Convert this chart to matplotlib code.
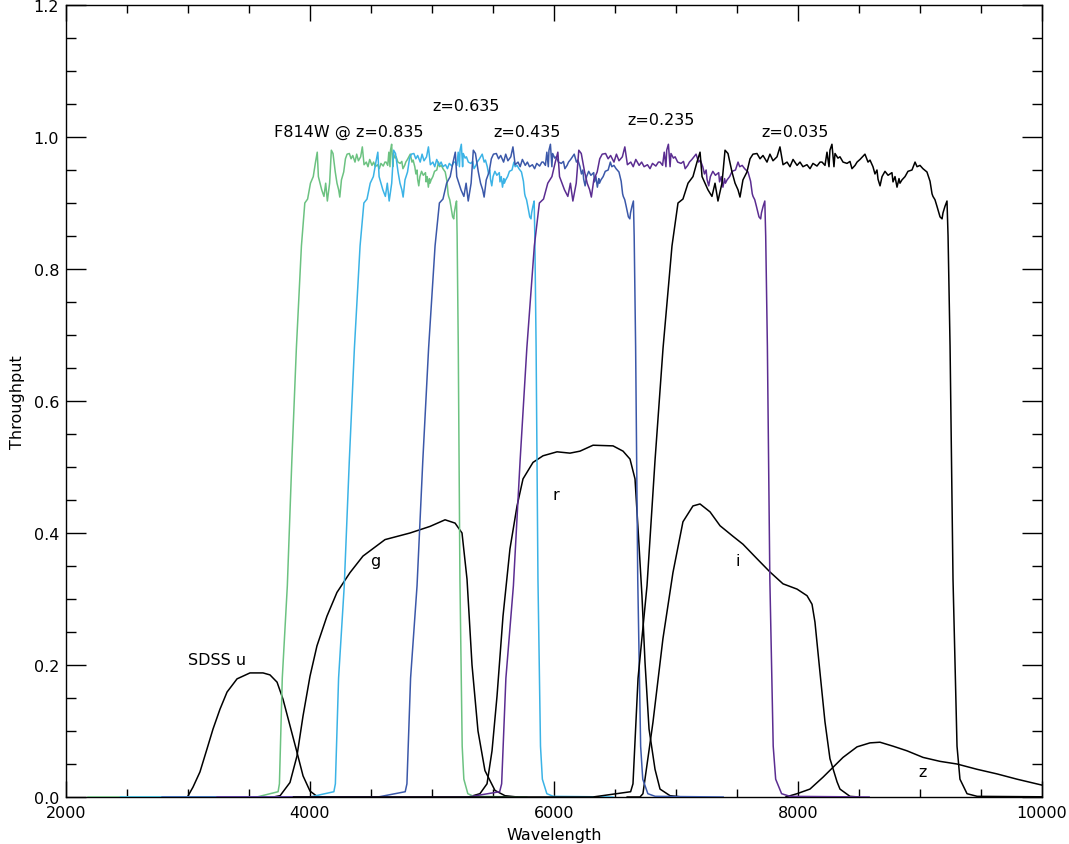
import numpy as np
import matplotlib
matplotlib.use('Agg')
import matplotlib.pyplot as plt
from matplotlib.ticker import MultipleLocator, FormatStrFormatter

# ---------------- data ----------------
# HST F814W throughput, observed-frame wavelength (Angstrom)
f814w_wave = [4000, 6540, 6860, 6880, 6923, 6999, 7067, 7135, 7211, 7262,
              7304, 7347, 7389, 7423, 7449, 7466, 7491, 7516, 7550, 7576,
              7601, 7635, 7661, 7686, 7720, 7746, 7771, 7788, 7813, 7847,
              7873, 7898, 7932, 7958, 7983, 8017, 8042, 8068, 8102, 8127,
              8153, 8187, 8212, 8238, 8272, 8297, 8322, 8356, 8382, 8407,
              8441, 8467, 8484, 8509, 8526, 8543, 8551, 8568, 8585, 8594,
              8619, 8636, 8662, 8696, 8721, 8738, 8764, 8781, 8806, 8848,
              8874, 8891, 8916, 8933, 8950, 8959, 8976, 8993, 9018, 9044,
              9077, 9086, 9103, 9120, 9137, 9145, 9162, 9188, 9213, 9247,
              9273, 9290, 9315, 9340, 9374, 9400, 9417, 9425, 9442, 9459,
              9485, 9502, 9510, 9527, 9544, 9553, 9570, 9595, 9629, 9654,
              9714, 9800, 10600]
f814w_thru = [0.0, 0.0, 0.008, 0.02, 0.18, 0.32, 0.51, 0.68, 0.835, 0.90,
              0.906, 0.93, 0.94, 0.962, 0.977, 0.94, 0.93, 0.92, 0.91, 0.93,
              0.903, 0.93, 0.98, 0.975, 0.947, 0.93, 0.92, 0.909, 0.935, 0.947,
              0.967, 0.974, 0.975, 0.967, 0.972, 0.962, 0.974, 0.964, 0.970, 0.985,
              0.958, 0.962, 0.955, 0.966, 0.957, 0.962, 0.955, 0.958, 0.952, 0.96,
              0.956, 0.962, 0.962, 0.957, 0.977, 0.955, 0.98, 0.989, 0.955, 0.975,
              0.968, 0.97, 0.962, 0.96, 0.963, 0.952, 0.957, 0.962, 0.966, 0.974,
              0.962, 0.965, 0.955, 0.944, 0.95, 0.936, 0.926, 0.94, 0.948, 0.942,
              0.946, 0.932, 0.94, 0.924, 0.937, 0.93, 0.935, 0.94, 0.948, 0.95,
              0.962, 0.955, 0.957, 0.952, 0.947, 0.933, 0.914, 0.91, 0.905, 0.895,
              0.879, 0.876, 0.885, 0.895, 0.903, 0.85, 0.683, 0.33, 0.077, 0.027,
              0.005, 0.001, 0.0]

redshifts = [0.835, 0.635, 0.435, 0.235, 0.035]
z_labels = ['F814W @ z=0.835', 'z=0.635', 'z=0.435', 'z=0.235', 'z=0.035']

# SDSS filters
u_wave = [3000, 3041, 3098, 3156, 3205, 3262, 3320, 3402, 3508, 3615,
          3672, 3730, 3779, 3836, 3893, 3943, 4000, 4057, 4100]
u_thru = [0.0015, 0.015, 0.038, 0.073, 0.103, 0.133, 0.159, 0.179, 0.188, 0.188,
          0.185, 0.174, 0.148, 0.108, 0.068, 0.032, 0.009, 0.001, 0.0]

g_wave = [3700, 3755, 3836, 3893, 3943, 4000, 4057, 4139, 4221, 4328,
          4434, 4615, 4820, 4984, 5107, 5189, 5246, 5287, 5328, 5377,
          5434, 5516, 5598, 5700]
g_thru = [0.0, 0.002, 0.022, 0.062, 0.123, 0.183, 0.229, 0.274, 0.31, 0.34,
          0.365, 0.39, 0.40, 0.41, 0.42, 0.415, 0.40, 0.33, 0.20, 0.10,
          0.04, 0.01, 0.002, 0.0]

r_wave = [5300, 5393, 5451, 5492, 5533, 5582, 5639, 5697, 5746, 5828,
          5910, 6025, 6131, 6213, 6320, 6484, 6566, 6623, 6664, 6689,
          6721, 6746, 6779, 6828, 6869, 6951, 7050]
r_thru = [0.0, 0.005, 0.02, 0.07, 0.153, 0.274, 0.376, 0.441, 0.482, 0.507,
          0.517, 0.523, 0.521, 0.524, 0.533, 0.532, 0.524, 0.512, 0.482, 0.406,
          0.305, 0.204, 0.103, 0.042, 0.012, 0.002, 0.0]

i_wave = [6600, 6705, 6729, 6811, 6893, 6975, 7057, 7139, 7197, 7279,
          7361, 7467, 7549, 7664, 7770, 7877, 7992, 8074, 8115, 8139,
          8180, 8221, 8262, 8320, 8344, 8426, 8500]
i_thru = [0.0, 0.0, 0.005, 0.113, 0.24, 0.34, 0.417, 0.441, 0.444, 0.432,
          0.411, 0.395, 0.383, 0.361, 0.341, 0.323, 0.315, 0.305, 0.292, 0.265,
          0.189, 0.114, 0.058, 0.023, 0.012, 0.001, 0.0]

zs_wave = [7900, 7992, 8098, 8205, 8287, 8369, 8484, 8590, 8672, 8779,
           8893, 9025, 9164, 9303, 9467, 9631, 9795, 10000]
zs_thru = [0.0, 0.005, 0.012, 0.03, 0.045, 0.06, 0.076, 0.082, 0.083, 0.077,
           0.07, 0.06, 0.054, 0.05, 0.042, 0.035, 0.027, 0.018]

sdss_labels = ['SDSS u', 'g', 'r', 'i', 'z']

# ---------------- style ----------------
z_colors = ['#6cc281', '#3bb3e6', '#3b58a9', '#5b2d91', '#000000']
z_label_pos = [(4320, 1.008), (5279, 1.048), (5779, 1.008), (6877, 1.026), (7975, 1.008)]
sdss_label_pos = [(3238, 0.209), (4533, 0.358), (6016, 0.459), (7508, 0.359), (9025, 0.039)]

plt.rcParams['font.family'] = ['DejaVu Sans']
FS = 11.5

fig = plt.figure(figsize=(10.69, 8.45), dpi=100)
ax = fig.add_axes([66 / 1069, (845 - 798) / 845, (1042 - 66) / 1069, (798 - 6) / 845])

lw = 1.1
for wv, th in [(u_wave, u_thru), (g_wave, g_thru), (r_wave, r_thru),
               (i_wave, i_thru), (zs_wave, zs_thru)]:
    ax.plot(wv, th, color='black', lw=lw, zorder=2)

for z, c in zip(redshifts, z_colors):
    rest = np.array(f814w_wave) / (1.0 + z)
    ax.plot(rest, f814w_thru, color=c, lw=lw, zorder=3)

for lab, (x, y) in zip(z_labels, z_label_pos):
    ax.text(x, y, lab, ha='center', va='center', fontsize=FS)
for lab, (x, y) in zip(sdss_labels, sdss_label_pos):
    ax.text(x, y, lab, ha='center', va='center', fontsize=FS)

ax.set_xlim(2000, 10000)
ax.set_ylim(0.0, 1.2)
ax.xaxis.set_major_locator(MultipleLocator(2000))
ax.xaxis.set_minor_locator(MultipleLocator(500))
ax.yaxis.set_major_locator(MultipleLocator(0.2))
ax.yaxis.set_minor_locator(MultipleLocator(0.05))
ax.yaxis.set_major_formatter(FormatStrFormatter('%.1f'))
ax.xaxis.set_major_formatter(FormatStrFormatter('%d'))

ax.tick_params(axis='both', which='both', direction='in', top=True, right=True,
               labelsize=FS, width=1.0, color='black')
ax.tick_params(axis='x', which='major', length=11.5, pad=6)
ax.tick_params(axis='x', which='minor', length=5.8)
ax.tick_params(axis='y', which='major', length=14.4, pad=5)
ax.tick_params(axis='y', which='minor', length=7.2)
for sp in ax.spines.values():
    sp.set_linewidth(1.0)

ax.set_xlabel('Wavelength', fontsize=FS, labelpad=5)
ax.set_ylabel('Throughput', fontsize=FS, labelpad=6)

fig.savefig('out.png', dpi=100)
